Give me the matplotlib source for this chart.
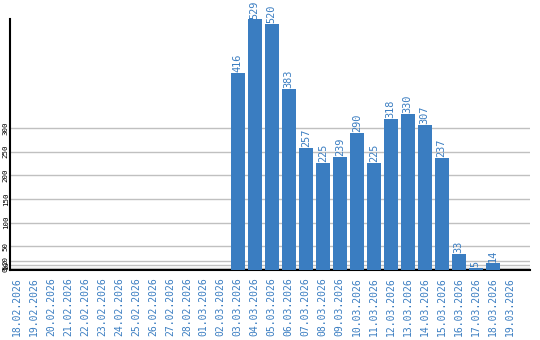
import matplotlib
matplotlib.use("Agg")
import matplotlib.pyplot as plt

dates = ["18.02.2026", "19.02.2026", "20.02.2026", "21.02.2026", "22.02.2026",
         "23.02.2026", "24.02.2026", "25.02.2026", "26.02.2026", "27.02.2026",
         "28.02.2026", "01.03.2026", "02.03.2026", "03.03.2026", "04.03.2026",
         "05.03.2026", "06.03.2026", "07.03.2026", "08.03.2026", "09.03.2026",
         "10.03.2026", "11.03.2026", "12.03.2026", "13.03.2026", "14.03.2026",
         "15.03.2026", "16.03.2026", "17.03.2026", "18.03.2026", "19.03.2026"]
counts = [0, 0, 0, 0, 0, 0, 0, 0, 0, 0, 0, 0, 0,
          416, 529, 520, 383, 257, 225, 239, 290, 225, 318, 330, 307, 237,
          33, 5, 14, 0]
yticks = [0, 5, 10, 20, 50, 100, 150, 200, 250, 300]

BLUE = "#3a7dc1"
MONO = "DejaVu Sans Mono"

fig = plt.figure(figsize=(5.4, 3.4), dpi=100)
ax = fig.add_axes([10 / 540, 70 / 340, 520 / 540, 251 / 340])

x = list(range(len(dates)))
ax.bar(x, counts, width=0.82, color=BLUE, zorder=3)
for xi, v in zip(x, counts):
    if v > 0:
        ax.text(xi, v + 2, str(v), rotation=90, ha="center", va="bottom",
                color=BLUE, fontsize=7.4, family=MONO)

ax.set_xlim(-0.41, 30.2)
ax.set_ylim(0, 530)
ax.set_yticks(yticks)
ax.set_yticklabels([str(t) for t in yticks], rotation=90, va="center",
                   fontsize=5.4, family=MONO)
ax.set_xticks(x)
ax.set_xticklabels(dates, rotation=90, color=BLUE, fontsize=7, family=MONO)
ax.tick_params(length=0, pad=5)
ax.tick_params(axis="y", pad=1)
ax.grid(axis="y", color="#c0c0c0", linewidth=1, zorder=0)
for s in ("top", "right"):
    ax.spines[s].set_visible(False)
ax.spines["left"].set_linewidth(1.5)
ax.spines["bottom"].set_linewidth(1.5)

fig.savefig("out.png", dpi=100)
